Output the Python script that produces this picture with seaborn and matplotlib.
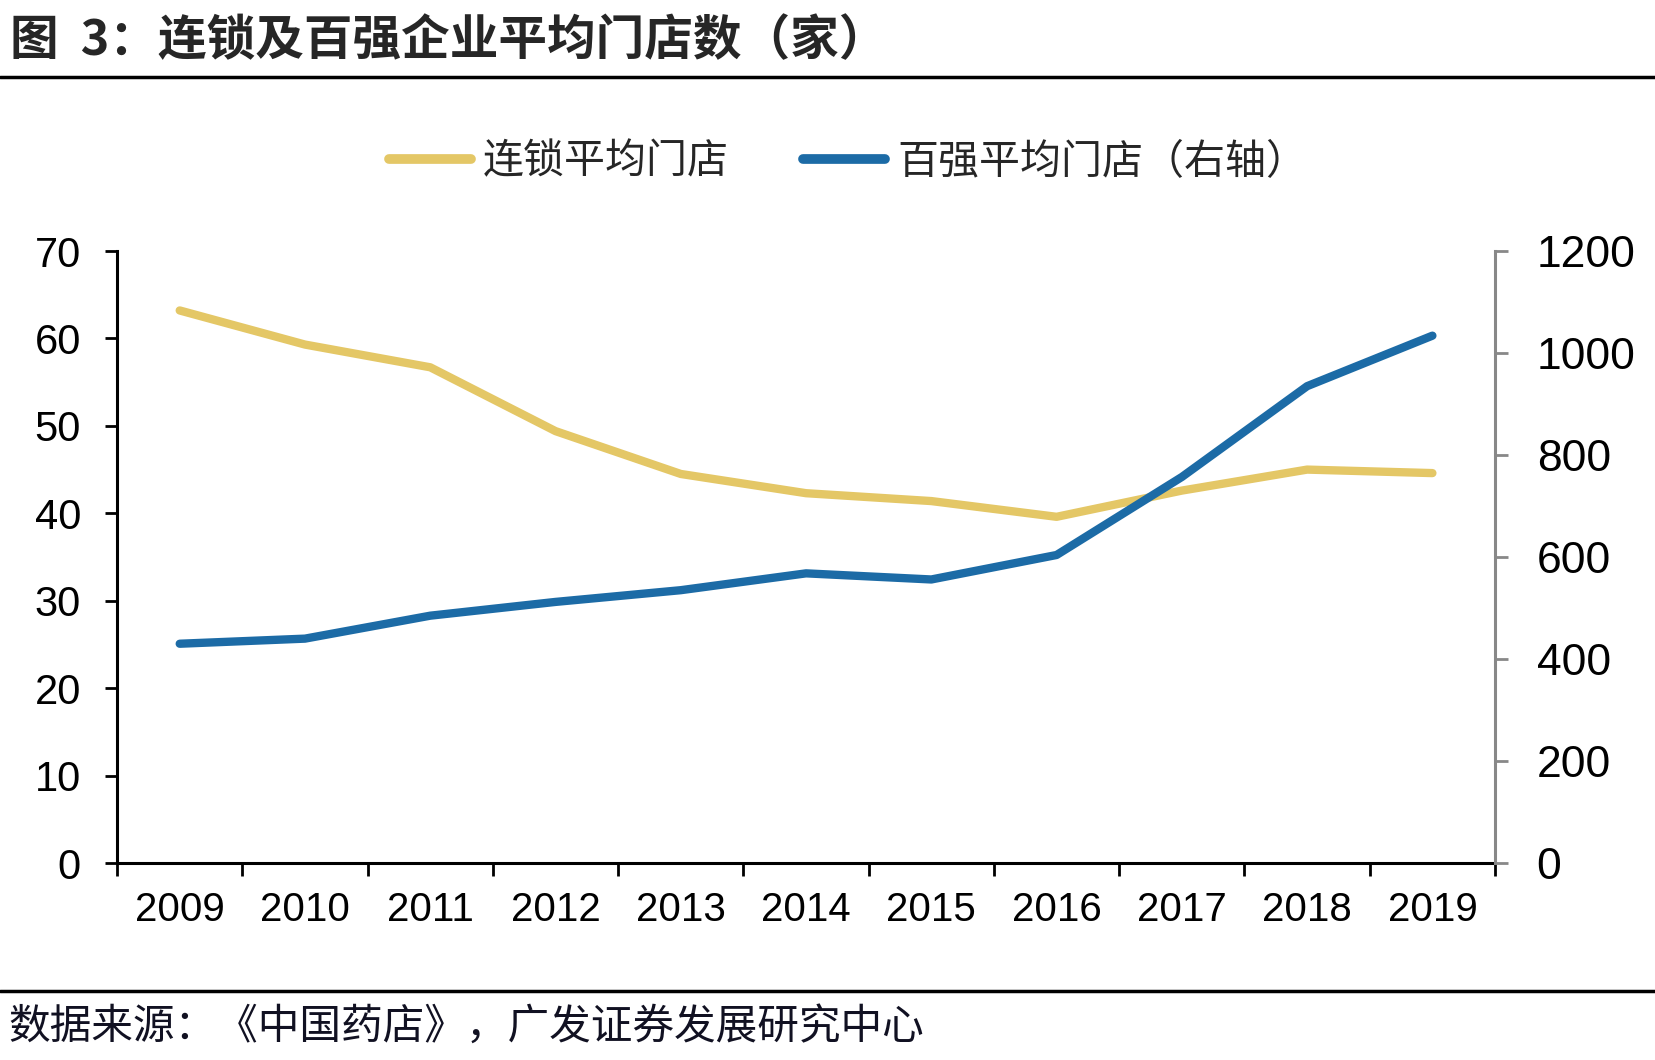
import numpy as np
import pandas as pd
import matplotlib
matplotlib.use('Agg')
import matplotlib.pyplot as plt
import seaborn as sns
from matplotlib.lines import Line2D

# 数据
years = ['2009', '2010', '2011', '2012', '2013', '2014', '2015', '2016', '2017', '2018', '2019']
chain_avg = [63.2, 59.3, 56.7, 49.4, 44.5, 42.3, 41.4, 39.6, 42.6, 45.0, 44.6]
top100_avg = [430, 440, 485, 512, 535, 568, 556, 604, 757, 935, 1034]

yellow = '#E4C766'
blue = '#1C6BA6'

sns.set_theme(style='white')
plt.rcParams['font.family'] = ['Liberation Sans', 'Noto Sans CJK SC', 'DejaVu Sans']
cjk = ['Noto Sans CJK SC', 'DejaVu Sans']

df = pd.DataFrame({'idx': np.arange(len(years)), 'chain': chain_avg, 'top100': top100_avg})

fig = plt.figure(figsize=(16.56, 10.60), dpi=100)
ax = fig.add_axes([0.0707, 0.1858, 0.8321, 0.5774])
ax2 = ax.twinx()

sns.lineplot(data=df, x='idx', y='chain', ax=ax, color=yellow, linewidth=6,
             solid_capstyle='round', solid_joinstyle='round')
sns.lineplot(data=df, x='idx', y='top100', ax=ax2, color=blue, linewidth=6,
             solid_capstyle='round', solid_joinstyle='round')

ax.set_xlim(-0.5, len(years) - 0.5)
ax.set_ylim(0, 70)
ax2.set_ylim(0, 1200)
ax.set_yticks(range(0, 71, 10))
ax2.set_yticks(range(0, 1201, 200))
ax.set_xlabel('')
ax.set_ylabel('')
ax2.set_ylabel('')

# x轴：刻度在分界处，标签居中
ax.set_xticks(np.arange(-0.5, len(years), 1.0))
ax.set_xticklabels([])
ax.set_xticks(np.arange(len(years)), minor=True)
ax.set_xticklabels(years, minor=True, fontsize=29)
ax.tick_params(axis='x', which='major', direction='out', length=9, width=2, color='black', bottom=True)
ax.tick_params(axis='x', which='minor', length=0, pad=20)

ax.tick_params(axis='y', direction='out', length=9, width=2, color='black', left=True,
               labelsize=30, pad=17)
ax2.tick_params(axis='y', direction='out', length=9, width=2, color='#888888', right=True,
                labelsize=32, pad=21)
for lab in ax.get_yticklabels() + ax2.get_yticklabels() + ax.get_xticklabels(minor=True):
    lab.set_color('black')

for s in ['top']:
    ax.spines[s].set_visible(False)
    ax2.spines[s].set_visible(False)
ax.spines['right'].set_visible(False)
ax.spines['left'].set_color('black')
ax.spines['left'].set_linewidth(2.2)
ax.spines['bottom'].set_color('black')
ax.spines['bottom'].set_linewidth(2.2)
ax2.spines['left'].set_visible(False)
ax2.spines['bottom'].set_visible(False)
ax2.spines['right'].set_color('#888888')
ax2.spines['right'].set_linewidth(2.2)
ax.grid(False)
ax2.grid(False)

# 图例
handles = [Line2D([0], [0], color=yellow, lw=7, solid_capstyle='round'),
           Line2D([0], [0], color=blue, lw=7, solid_capstyle='round')]
fig.legend(handles, ['连锁平均门店', '百强平均门店（右轴）'], loc='center',
           bbox_to_anchor=(0.512, 0.847), ncol=2, frameon=False, handlelength=2.0,
           handletextpad=0.3, columnspacing=1.8, prop={'family': cjk, 'size': 29.5})

# 标题与来源
fig.text(0.006, 0.962, '图  3：连锁及百强企业平均门店数（家）', fontsize=35, fontweight='bold',
         family=cjk, va='center', ha='left')
fig.add_artist(Line2D([0, 1], [0.927, 0.927], transform=fig.transFigure, color='black', lw=2.5))
fig.add_artist(Line2D([0, 1], [0.065, 0.065], transform=fig.transFigure, color='black', lw=2.5))
fig.text(0.005, 0.031, '数据来源：《中国药店》，广发证券发展研究中心', fontsize=30,
         family=cjk, va='center', ha='left', color='#111122')

fig.savefig('out.png', dpi=100)
